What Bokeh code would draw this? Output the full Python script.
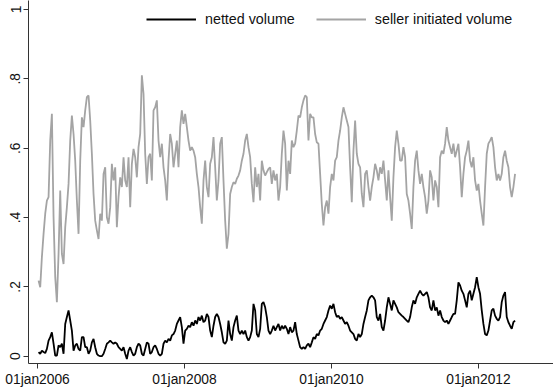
import pandas as pd
from bokeh.plotting import figure
from bokeh.models import (FixedTicker, CustomJSTickFormatter, Legend, LegendItem,
                          Range1d, ColumnDataSource)
from bokeh.embed import file_html
from bokeh.resources import INLINE

# Observation window (values are evenly spaced between these dates)
start_date = "2006-01-06"
end_date = "2012-07-01"

# Seller initiated volume (share)
seller_initiated = [
    0.218, 0.199, 0.286, 0.353, 0.411, 0.449, 0.459, 0.622, 0.699, 0.401,
    0.228, 0.156, 0.295, 0.478, 0.295, 0.266, 0.372, 0.430, 0.497, 0.622,
    0.694, 0.641, 0.564, 0.449, 0.353, 0.564, 0.689, 0.661, 0.709, 0.747,
    0.752, 0.680, 0.584, 0.468, 0.391, 0.363, 0.338, 0.411, 0.391, 0.526,
    0.545, 0.401, 0.382, 0.430, 0.555, 0.507, 0.545, 0.372, 0.459, 0.516,
    0.488, 0.574, 0.507, 0.488, 0.574, 0.430, 0.555, 0.598, 0.574, 0.516,
    0.603, 0.641, 0.810, 0.757, 0.584, 0.497, 0.574, 0.584, 0.507, 0.709,
    0.718, 0.738, 0.622, 0.574, 0.613, 0.545, 0.507, 0.449, 0.564, 0.641,
    0.613, 0.545, 0.584, 0.622, 0.545, 0.661, 0.709, 0.670, 0.699, 0.661,
    0.622, 0.593, 0.603, 0.593, 0.574, 0.526, 0.488, 0.430, 0.382, 0.507,
    0.564, 0.488, 0.459, 0.555, 0.574, 0.632, 0.545, 0.449, 0.507, 0.613,
    0.632, 0.507, 0.391, 0.310, 0.353, 0.468, 0.488, 0.502, 0.497, 0.512,
    0.521, 0.536, 0.564, 0.584, 0.622, 0.641, 0.603, 0.574, 0.497, 0.444,
    0.545, 0.488, 0.526, 0.449, 0.564, 0.536, 0.521, 0.531, 0.540, 0.545,
    0.497, 0.536, 0.507, 0.526, 0.449, 0.488, 0.584, 0.651, 0.613, 0.478,
    0.564, 0.526, 0.622, 0.603, 0.613, 0.651, 0.694, 0.689, 0.718, 0.738,
    0.752, 0.747, 0.622, 0.699, 0.689, 0.689, 0.641, 0.617, 0.613, 0.526,
    0.439, 0.377, 0.430, 0.449, 0.411, 0.488, 0.526, 0.507, 0.564, 0.574,
    0.622, 0.651, 0.689, 0.718, 0.699, 0.680, 0.661, 0.545, 0.444, 0.593,
    0.680, 0.584, 0.555, 0.545, 0.468, 0.430, 0.526, 0.536, 0.488, 0.449,
    0.488, 0.516, 0.555, 0.536, 0.507, 0.545, 0.526, 0.564, 0.507, 0.449,
    0.536, 0.459, 0.391, 0.516, 0.603, 0.651, 0.613, 0.564, 0.564, 0.603,
    0.574, 0.468, 0.449, 0.411, 0.367, 0.488, 0.564, 0.593, 0.536, 0.497,
    0.526, 0.488, 0.459, 0.411, 0.449, 0.536, 0.516, 0.449, 0.507, 0.488,
    0.430, 0.574, 0.593, 0.584, 0.613, 0.661, 0.622, 0.603, 0.584, 0.613,
    0.574, 0.593, 0.613, 0.545, 0.459, 0.526, 0.574, 0.593, 0.622, 0.564,
    0.545, 0.574, 0.507, 0.478, 0.497, 0.449, 0.411, 0.377, 0.488, 0.584,
    0.613, 0.622, 0.632, 0.603, 0.545, 0.507, 0.526, 0.507, 0.526, 0.574,
    0.593, 0.564, 0.545, 0.488, 0.459, 0.488, 0.526,
]

# Netted volume (share)
netted = [
    0.012, 0.007, 0.016, 0.012, 0.009, 0.021, 0.045, 0.055, 0.069, 0.036,
    0.002, 0.002, 0.031, 0.026, 0.036, 0.007, 0.093, 0.113, 0.132, 0.103,
    0.074, 0.016, 0.031, 0.036, 0.021, 0.016, 0.055, 0.055, 0.026, 0.026,
    0.007, 0.016, 0.040, 0.050, 0.026, 0.007, 0.002, 0.000, 0.000, 0.007,
    0.021, 0.036, 0.040, 0.045, 0.040, 0.036, 0.040, 0.036, 0.026, 0.021,
    0.016, 0.026, 0.007, -0.008, 0.016, 0.026, 0.012, 0.002, 0.007, 0.026,
    0.036, 0.031, 0.007, 0.002, 0.021, 0.040, 0.036, 0.007, 0.012, 0.026,
    0.031, 0.021, 0.007, 0.002, 0.007, 0.036, 0.045, 0.040, 0.050, 0.045,
    0.060, 0.064, 0.074, 0.093, 0.103, 0.113, 0.084, 0.036, 0.074, 0.079,
    0.088, 0.084, 0.098, 0.088, 0.103, 0.093, 0.113, 0.103, 0.117, 0.098,
    0.103, 0.122, 0.113, 0.074, 0.055, 0.088, 0.113, 0.122, 0.113, 0.093,
    0.069, 0.040, 0.036, 0.045, 0.103, 0.064, 0.045, 0.084, 0.103, 0.117,
    0.074, 0.064, 0.074, 0.064, 0.074, 0.055, 0.045, 0.055, 0.074, 0.151,
    0.132, 0.064, 0.055, 0.079, 0.151, 0.156, 0.141, 0.113, 0.074, 0.064,
    0.074, 0.088, 0.074, 0.084, 0.093, 0.074, 0.088, 0.079, 0.088, 0.079,
    0.064, 0.084, 0.069, 0.074, 0.098, 0.064, 0.045, 0.026, 0.021, 0.026,
    0.021, 0.031, 0.036, 0.026, 0.040, 0.055, 0.050, 0.064, 0.060, 0.074,
    0.079, 0.093, 0.103, 0.113, 0.132, 0.146, 0.137, 0.151, 0.127, 0.113,
    0.117, 0.108, 0.113, 0.103, 0.093, 0.098, 0.088, 0.074, 0.069, 0.064,
    0.050, 0.045, 0.064, 0.055, 0.064, 0.093, 0.113, 0.132, 0.161, 0.170,
    0.175, 0.170, 0.161, 0.113, 0.103, 0.122, 0.084, 0.074, 0.103, 0.141,
    0.170, 0.151, 0.132, 0.161, 0.151, 0.141, 0.127, 0.122, 0.117, 0.113,
    0.108, 0.103, 0.098, 0.113, 0.141, 0.161, 0.151, 0.170, 0.180, 0.189,
    0.180, 0.175, 0.180, 0.185, 0.170, 0.141, 0.132, 0.161, 0.132, 0.141,
    0.117, 0.132, 0.113, 0.103, 0.098, 0.103, 0.093, 0.103, 0.113, 0.122,
    0.122, 0.161, 0.213, 0.204, 0.189, 0.180, 0.161, 0.141, 0.180, 0.189,
    0.161, 0.180, 0.199, 0.228, 0.199, 0.180, 0.132, 0.093, 0.064, 0.060,
    0.074, 0.103, 0.132, 0.137, 0.117, 0.108, 0.103, 0.113, 0.156, 0.175,
    0.185, 0.113, 0.098, 0.088, 0.079, 0.098, 0.103,
]

# Axis ticks
x_tick_dates = ["2006-01-01", "2008-01-01", "2010-01-01", "2012-01-01"]
y_ticks = [0, 0.2, 0.4, 0.6, 0.8, 1.0]
y_tick_labels = ["0", ".2", ".4", ".6", ".8", "1"]

series_names = ["netted volume", "seller initiated volume"]
BLACK = "#000000"
GRAY = "#a4a4a4"
FONT = "Liberation Sans"

dates_seller = pd.date_range(start_date, end_date, periods=len(seller_initiated))
dates_netted = pd.date_range(start_date, end_date, periods=len(netted))

src_seller = ColumnDataSource(dict(x=dates_seller, y=seller_initiated))
src_netted = ColumnDataSource(dict(x=dates_netted, y=netted))

p = figure(
    width=553, height=389,
    x_axis_type="datetime",
    x_range=Range1d(pd.Timestamp("2005-11-17"), pd.Timestamp("2013-01-08")),
    y_range=Range1d(-0.021, 1.026),
    output_backend="svg", toolbar_location=None,
    min_border_left=28, min_border_right=0, min_border_top=0, min_border_bottom=26,
)
p.outline_line_color = None
p.grid.visible = False
p.background_fill_color = "white"
p.border_fill_color = "white"

r_seller = p.line("x", "y", source=src_seller, line_color=GRAY, line_width=1.8)
r_netted = p.line("x", "y", source=src_netted, line_color=BLACK, line_width=1.8)

# x axis: dated ticks in Stata style (01jan2006)
tick_ms = [pd.Timestamp(d).value // 10**6 for d in x_tick_dates]
p.xaxis.ticker = FixedTicker(ticks=tick_ms, minor_ticks=[])
p.xaxis.formatter = CustomJSTickFormatter(code="""
const m = ["jan","feb","mar","apr","may","jun","jul","aug","sep","oct","nov","dec"];
const d = new Date(tick);
const dd = String(d.getUTCDate()).padStart(2, "0");
return dd + m[d.getUTCMonth()] + d.getUTCFullYear();
""")

p.yaxis.ticker = FixedTicker(ticks=y_ticks, minor_ticks=[])
p.yaxis.major_label_overrides = {t: s for t, s in zip(y_ticks, y_tick_labels)}
p.yaxis.major_label_orientation = "vertical"

for ax in (p.xaxis[0], p.yaxis[0]):
    ax.axis_line_color = "#333333"
    ax.axis_line_width = 1
    ax.major_tick_line_color = "#333333"
    ax.major_tick_in = 0
    ax.major_tick_out = 5
    ax.minor_tick_line_color = None
    ax.major_label_text_font = FONT
    ax.major_label_text_font_size = "13.8px"
    ax.major_label_text_color = "#111111"
    ax.major_label_standoff = 3

legend = Legend(
    items=[LegendItem(label=series_names[0], renderers=[r_netted]),
           LegendItem(label=series_names[1], renderers=[r_seller])],
    orientation="horizontal",
    location=(118, 334),
    glyph_width=50, glyph_height=20, label_height=20,
    label_standoff=9, spacing=21, padding=0, margin=0,
    border_line_color=None, background_fill_alpha=0,
    label_text_font=FONT, label_text_font_size="14.3px", label_text_color="#111111",
)
p.add_layout(legend)

open("out.html", "w").write(file_html(p, INLINE))
